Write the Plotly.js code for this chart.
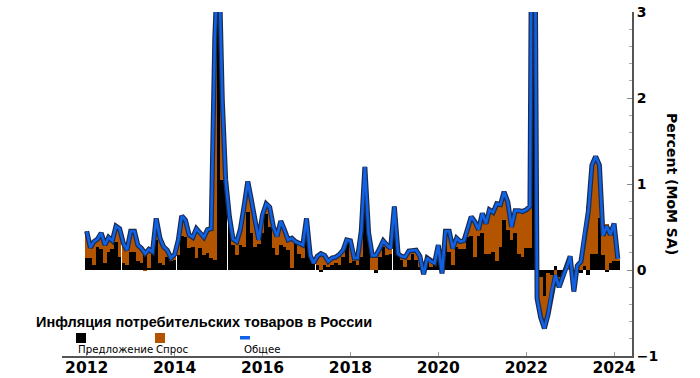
<!DOCTYPE html>
<html>
<head>
<meta charset="utf-8">
<script src="https://cdn.plot.ly/plotly-3.0.1.min.js"></script>
<style>html,body{margin:0;padding:0;background:#fff;}#chart{width:700px;height:378px;}</style>
</head>
<body>
<div id="chart"></div>
<script>
// Monthly data, Jan 2012 .. Feb 2024
const startYear = 2012;
const startMonth = 1;
const seriesNames = ["Предложение", "Спрос", "Общее"];
const chartTitle = "Инфляция потребительских товаров в России";
const yTitle = "Percent (MoM SA)";

const total = [
  0.45, 0.26, 0.33, 0.36, 0.43, 0.29, 0.38, 0.34, 0.51, 0.48, 0.31, 0.23,
  0.45, 0.45, 0.29, 0.25, 0.19, 0.24, 0.21, 0.60, 0.37, 0.27, 0.23, 0.14,
  0.18, 0.35, 0.63, 0.58, 0.41, 0.38, 0.48, 0.43, 0.38, 0.47, 0.48, 2.70,
  3.80, 1.98, 1.05, 0.62, 0.36, 0.33, 0.47, 0.74, 1.03, 0.81, 0.58, 0.35,
  0.64, 0.77, 0.73, 0.50, 0.39, 0.57, 0.47, 0.35, 0.37, 0.33, 0.31, 0.29,
  0.60, 0.17, 0.08, 0.16, 0.19, 0.17, 0.10, 0.14, 0.15, 0.18, 0.23, 0.35,
  0.34, 0.14, 0.14, 0.45, 1.20, 0.43, 0.17, 0.17, 0.25, 0.34, 0.29, 0.25,
  0.74, 0.19, 0.16, 0.15, 0.22, 0.23, 0.23, 0.16, -0.05, 0.14, 0.10, 0.08,
  0.29, -0.04, 0.45, 0.45, 0.25, 0.37, 0.33, 0.34, 0.48, 0.62, 0.56, 0.47,
  0.66, 0.54, 0.70, 0.67, 0.77, 0.76, 0.91, 0.79, 0.50, 0.69, 0.69, 0.68,
  0.70, 0.74, 7.60, -0.33, -0.55, -0.68, -0.52, -0.25, -0.06, -0.20, -0.08, 0.02,
  0.16, -0.25, 0.05, 0.10, 0.42, 0.68, 1.22, 1.32, 1.22, 0.40, 0.51, 0.41,
  0.54, 0.13
];

const supply = [
  0.14, 0.14, 0.06, 0.27, 0.25, 0.08, 0.21, 0.25, 0.33, 0.15, 0.08, 0.06,
  0.21, 0.21, 0.10, 0.08, 0.20, 0.02, 0.20, 0.35, 0.08, 0.06, 0.15, 0.10,
  0.12, 0.17, 0.39, 0.38, 0.26, 0.27, 0.14, 0.26, 0.17, 0.20, 0.14, 0.12,
  2.90, 1.05, 1.05, 0.55, 0.29, 0.17, 0.29, 0.27, 0.68, 0.43, 0.27, 0.30,
  0.43, 0.65, 0.50, 0.26, 0.17, 0.29, 0.27, 0.23, 0.02, 0.33, 0.19, 0.14,
  0.41, 0.16, 0.08, 0.06, -0.02, 0.06, 0.04, 0.06, 0.08, 0.06, 0.15, 0.31,
  0.08, 0.10, 0.06, 0.15, 1.10, 0.40, 0.00, -0.03, 0.15, 0.27, 0.17, 0.19,
  0.73, 0.19, 0.12, 0.04, 0.12, 0.19, 0.12, 0.04, -0.05, 0.08, 0.04, 0.06,
  0.21, -0.02, 0.31, 0.21, 0.06, 0.27, 0.25, 0.25, 0.38, 0.40, 0.15, 0.40,
  0.43, 0.19, 0.19, 0.21, 0.10, 0.27, 0.58, 0.47, 0.35, 0.43, 0.19, 0.15,
  0.26, 0.26, 5.00, -0.20, -0.08, -0.30, -0.04, -0.06, 0.05, -0.08, -0.03, 0.00,
  0.00, -0.02, 0.05, -0.04, 0.05, -0.06, 0.19, 0.19, 0.60, 0.17, -0.02, 0.08,
  0.10, 0.10
];

const demand = [
  0.31, 0.12, 0.27, 0.09, 0.18, 0.21, 0.17, 0.09, 0.18, 0.33, 0.23, 0.17,
  0.24, 0.24, 0.19, 0.17, -0.01, 0.22, 0.01, 0.25, 0.29, 0.21, 0.08, 0.04,
  0.06, 0.18, 0.24, 0.20, 0.15, 0.11, 0.34, 0.17, 0.21, 0.27, 0.34, 2.58,
  0.90, 0.93, 0.00, 0.07, 0.07, 0.16, 0.18, 0.47, 0.35, 0.38, 0.31, 0.05,
  0.21, 0.12, 0.23, 0.24, 0.22, 0.28, 0.20, 0.12, 0.35, 0.00, 0.12, 0.15,
  0.19, 0.01, 0.00, 0.10, 0.21, 0.11, 0.06, 0.08, 0.07, 0.12, 0.08, 0.04,
  0.26, 0.04, 0.08, 0.30, 0.10, 0.03, 0.17, 0.20, 0.10, 0.07, 0.12, 0.06,
  0.01, 0.00, 0.04, 0.11, 0.10, 0.04, 0.11, 0.12, 0.00, 0.06, 0.06, 0.02,
  0.08, -0.02, 0.14, 0.24, 0.19, 0.10, 0.08, 0.09, 0.10, 0.22, 0.41, 0.07,
  0.23, 0.35, 0.51, 0.46, 0.67, 0.49, 0.33, 0.32, 0.15, 0.26, 0.50, 0.53,
  0.44, 0.48, 2.60, -0.13, -0.47, -0.38, -0.48, -0.19, -0.11, -0.12, -0.05, 0.02,
  0.16, -0.23, 0.00, 0.14, 0.37, 0.74, 1.03, 1.13, 0.62, 0.23, 0.53, 0.33,
  0.44, 0.03
];

const xTickLabels = ["2012", "2014", "2016", "2018", "2020", "2022", "2024"];
const yTickValues = [-1, 0, 1, 2, 3];

// month dates
const dates = [];
for (let i = 0; i < total.length; i++) {
  const m = startMonth - 1 + i;
  const y = startYear + Math.floor(m / 12);
  const mm = (m % 12) + 1;
  dates.push(y + "-" + (mm < 10 ? "0" + mm : mm) + "-01");
}
const xTickVals = xTickLabels.map(s => s + "-01-01");

const BLACK = "#000000";
const ORANGE = "#b35400";
const BLUE = "#0f62e6";
const OUTLINE = "#1b2b4d";
const barWidth = 30.6 * 24 * 3600 * 1000;

const traces = [
  {type: "bar", x: dates, y: supply, name: seriesNames[0], marker: {color: BLACK, line: {width: 0}}, width: barWidth, showlegend: false},
  {type: "bar", x: dates, y: demand, name: seriesNames[1], marker: {color: ORANGE, line: {width: 0}}, width: barWidth, showlegend: false},
  {type: "scatter", mode: "lines", x: dates, y: total, line: {color: OUTLINE, width: 5}, showlegend: false, hoverinfo: "skip"},
  {type: "scatter", mode: "lines", x: dates, y: total, name: seriesNames[2], line: {color: BLUE, width: 2.6}, showlegend: false}
];

// plot area: x 62..632 px, y 12..356 px
const px = p => (p - 62) / 570;
const py = p => (356 - p) / 344;

const layout = {
  width: 700, height: 378,
  margin: {l: 62, r: 68, t: 12, b: 22, pad: 0},
  paper_bgcolor: "#ffffff", plot_bgcolor: "#ffffff",
  barmode: "relative", bargap: 0,
  showlegend: false,
  xaxis: {
    type: "date",
    range: ["2011-06-10", "2024-05-29"],
    tickvals: xTickVals, ticktext: xTickLabels,
    ticks: "inside", ticklen: 4, tickcolor: "#999", tickwidth: 1,
    ticklabelstandoff: -4,
    showline: true, linecolor: "#555", linewidth: 2,
    showgrid: false, zeroline: false,
    tickfont: {family: "DejaVu Sans", size: 15.5, color: "#000", weight: "bold"}
  },
  yaxis: {
    side: "right",
    range: [-1, 3],
    tickvals: yTickValues,
    ticks: "inside", ticklen: 5, tickcolor: "#888", tickwidth: 1,
    minor: {dtick: 0.2, ticks: "inside", ticklen: 3, tickcolor: "#aaa", tickwidth: 1},
    showline: true, linecolor: "#555", linewidth: 2,
    showgrid: false, zeroline: false,
    tickfont: {family: "DejaVu Sans", size: 14, color: "#000", weight: "bold"}
  },
  annotations: [
    {xref: "paper", yref: "paper", x: 1.07, y: 0.5, text: yTitle, textangle: 90, showarrow: false,
     xanchor: "center", yanchor: "middle",
     font: {family: "DejaVu Sans", size: 14, color: "#000", weight: "bold"}},
    {xref: "paper", yref: "paper", x: px(34), y: py(322), text: chartTitle, showarrow: false,
     xanchor: "left", yanchor: "middle",
     font: {family: "Liberation Sans", size: 14.5, color: "#000", weight: "bold"}},
    {xref: "paper", yref: "paper", x: px(76), y: py(349), text: seriesNames[0], showarrow: false,
     xanchor: "left", yanchor: "middle", font: {family: "DejaVu Sans", size: 10.2, color: "#000"}},
    {xref: "paper", yref: "paper", x: px(154), y: py(349), text: seriesNames[1], showarrow: false,
     xanchor: "left", yanchor: "middle", font: {family: "DejaVu Sans", size: 10.2, color: "#000"}},
    {xref: "paper", yref: "paper", x: px(242), y: py(349), text: seriesNames[2], showarrow: false,
     xanchor: "left", yanchor: "middle", font: {family: "DejaVu Sans", size: 10.2, color: "#000"}}
  ],
  shapes: [
    {type: "rect", xref: "paper", yref: "paper", x0: px(76), x1: px(86), y0: py(343), y1: py(333), fillcolor: BLACK, line: {width: 0}},
    {type: "rect", xref: "paper", yref: "paper", x0: px(155), x1: px(165), y0: py(343), y1: py(333), fillcolor: ORANGE, line: {width: 0}},
    {type: "rect", xref: "paper", yref: "paper", x0: px(240), x1: px(250), y0: py(339.5), y1: py(336), fillcolor: BLUE, line: {width: 0}}
  ]
};

Plotly.newPlot("chart", traces, layout, {staticPlot: true, displayModeBar: false});
</script>
</body>
</html>
